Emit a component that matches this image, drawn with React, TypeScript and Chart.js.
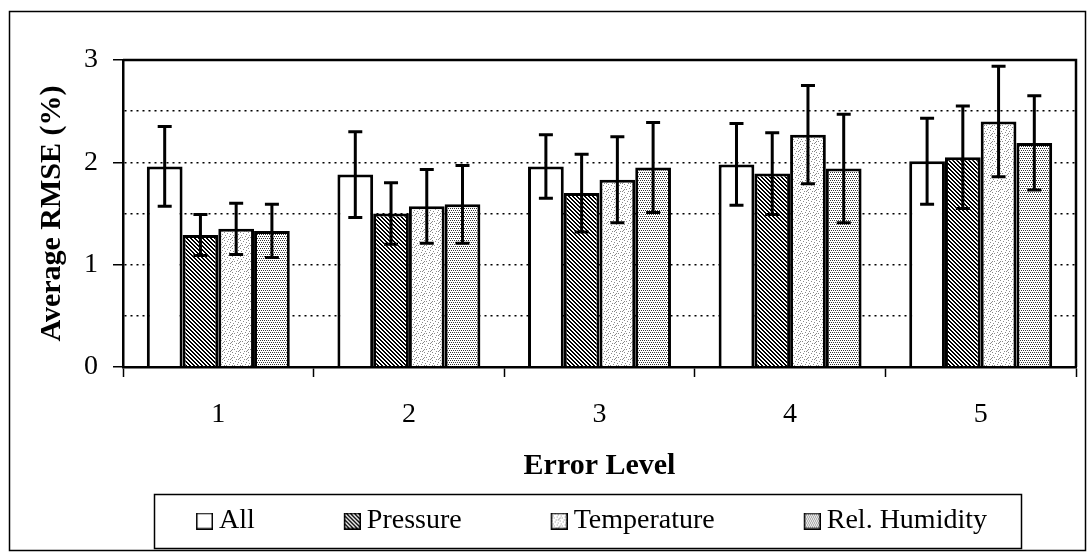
import React, { useEffect, useRef } from "react";
import { Chart, registerables } from "chart.js";

Chart.register(...registerables);

const categories = ["1", "2", "3", "4", "5"];
const seriesNames = ["All", "Pressure", "Temperature", "Rel. Humidity"];

const allValues = [1.96, 1.88, 1.96, 1.98, 2.01];
const allErrors = [0.39, 0.42, 0.31, 0.4, 0.42];
const pressureValues = [1.29, 1.5, 1.7, 1.89, 2.05];
const pressureErrors = [0.2, 0.3, 0.38, 0.4, 0.5];
const temperatureValues = [1.35, 1.57, 1.83, 2.27, 2.4];
const temperatureErrors = [0.25, 0.36, 0.42, 0.48, 0.54];
const humidityValues = [1.33, 1.59, 1.95, 1.94, 2.19];
const humidityErrors = [0.26, 0.38, 0.44, 0.53, 0.46];

const yMin = 0;
const yMax = 3;
const yStep = 0.5;

const FONT = "'Liberation Serif', 'Times New Roman', serif";

function makeTile(size: number, draw: (g: CanvasRenderingContext2D) => void) {
  const c = document.createElement("canvas");
  c.width = size;
  c.height = size;
  const g = c.getContext("2d") as CanvasRenderingContext2D;
  g.fillStyle = "#ffffff";
  g.fillRect(0, 0, size, size);
  draw(g);
  return c;
}

function buildTiles() {
  const white = makeTile(4, () => {});
  const hatch = makeTile(4, (g) => {
    g.fillStyle = "#000";
    for (let y = 0; y < 4; y++)
      for (let x = 0; x < 4; x++) if ((x - y + 8) % 4 < 2) g.fillRect(x, y, 1, 1);
  });
  const speckle = makeTile(8, (g) => {
    g.fillStyle = "#8a8a8a";
    const pts = [
      [0, 0], [3, 1], [6, 2], [1, 3], [5, 4], [2, 5], [7, 6], [4, 7], [0, 5], [6, 7],
    ];
    pts.forEach(([x, y]) => g.fillRect(x, y, 1, 1));
  });
  const dots = makeTile(4, (g) => {
    g.fillStyle = "#333";
    [[0, 0], [2, 0], [1, 2], [3, 2]].forEach(([x, y]) => g.fillRect(x, y, 1, 1));
  });
  return [white, hatch, speckle, dots];
}

const LEGEND_W = 88;

function legendImage(tile: HTMLCanvasElement) {
  const c = document.createElement("canvas");
  c.width = LEGEND_W + 16;
  c.height = 17;
  const g = c.getContext("2d") as CanvasRenderingContext2D;
  const pat = g.createPattern(tile, "repeat") as CanvasPattern;
  g.fillStyle = pat;
  g.fillRect(c.width - 17, 0, 17, 17);
  g.strokeStyle = "#000";
  g.lineWidth = 1.5;
  g.strokeRect(c.width - 16.25, 0.75, 15.5, 15.5);
  return c;
}

const errorBarPlugin = {
  id: "errorBars",
  afterDatasetsDraw(chart: any) {
    const ctx = chart.ctx;
    const y = chart.scales.y;
    ctx.save();
    ctx.strokeStyle = "#000";
    ctx.lineWidth = 3;
    chart.data.datasets.forEach((ds: any, di: number) => {
      const meta = chart.getDatasetMeta(di);
      meta.data.forEach((bar: any, i: number) => {
        const v = ds.data[i];
        const e = ds.errors[i];
        const yt = y.getPixelForValue(v + e);
        const yb = y.getPixelForValue(v - e);
        const x = bar.x;
        ctx.beginPath();
        ctx.moveTo(x, yt);
        ctx.lineTo(x, yb);
        ctx.moveTo(x - 7, yt);
        ctx.lineTo(x + 7, yt);
        ctx.moveTo(x - 7, yb);
        ctx.lineTo(x + 7, yb);
        ctx.stroke();
      });
    });
    ctx.restore();
  },
};

const framePlugin = {
  id: "frames",
  afterDraw(chart: any) {
    const { ctx, chartArea: a } = chart;
    ctx.save();
    ctx.strokeStyle = "#000";
    ctx.lineWidth = 2.5;
    ctx.beginPath();
    ctx.moveTo(a.left, a.top);
    ctx.lineTo(a.right, a.top);
    ctx.lineTo(a.right, a.bottom);
    ctx.stroke();
    ctx.lineWidth = 1.5;
    ctx.strokeRect(9.5, 11.5, 1076, 539);
    const hb = chart.legend.legendHitBoxes;
    if (hb && hb.length) {
      const left = hb[0].left + LEGEND_W - 9 - 42;
      const last = hb[hb.length - 1];
      const right = last.left + last.width + 34;
      const cy = hb[0].top + 14;
      ctx.lineWidth = 1.5;
      ctx.strokeRect(Math.round(left) + 0.5, Math.round(cy - 27) + 0.5, Math.round(right - left), 54);
    }
    ctx.restore();
  },
};

export default function App() {
  const ref = useRef<HTMLCanvasElement>(null);

  useEffect(() => {
    const tiles = buildTiles();
    const canvas = ref.current as HTMLCanvasElement;
    const g = canvas.getContext("2d") as CanvasRenderingContext2D;
    const pats = tiles.map((t) => g.createPattern(t, "repeat"));
    const images = tiles.map((t) => legendImage(t));
    const values = [allValues, pressureValues, temperatureValues, humidityValues];
    const errors = [allErrors, pressureErrors, temperatureErrors, humidityErrors];

    const chart = new Chart(canvas, {
      type: "bar",
      data: {
        labels: categories,
        datasets: seriesNames.map((name, i) => ({
          label: name,
          data: values[i],
          errors: errors[i],
          backgroundColor: pats[i],
          borderColor: "#000",
          borderWidth: 3,
          barPercentage: 1,
          categoryPercentage: 0.75,
        })) as any,
      },
      options: {
        responsive: false,
        animation: false,
        devicePixelRatio: 1,
        layout: { padding: { left: 28, top: 60, right: 13, bottom: 10 } },
        plugins: {
          tooltip: { enabled: false },
          legend: {
            position: "bottom",
            labels: {
              usePointStyle: true,
              pointStyleWidth: LEGEND_W,
              boxHeight: 17,
              padding: 10,
              color: "#000",
              font: { family: FONT, size: 28 },
              generateLabels: (ch: any) =>
                Chart.defaults.plugins.legend.labels
                  .generateLabels(ch)
                  .map((it: any, i: number) => ({ ...it, pointStyle: images[i] })),
            },
          },
        },
        scales: {
          x: {
            type: "category",
            offset: true,
            afterFit: (s: any) => {
              s.height = 130;
            },
            grid: {
              offset: true,
              drawOnChartArea: false,
              drawTicks: true,
              tickLength: 10,
              tickColor: "#000",
              tickWidth: 1.5,
              color: "#000",
            },
            border: { display: true, color: "#000", width: 2.5, z: 1 },
            ticks: {
              color: "#000",
              padding: 21,
              font: { family: FONT, size: 28 },
              maxRotation: 0,
            },
            title: {
              display: true,
              text: "Error Level",
              color: "#000",
              font: { family: FONT, size: 30, weight: "bold" },
              padding: { top: 0, bottom: 13 },
            },
          },
          y: {
            min: yMin,
            max: yMax,
            afterFit: (s: any) => {
              s.width = 95;
            },
            grid: {
              color: (c: any) =>
                c.tick && (c.tick.value === yMin || c.tick.value === yMax) ? "rgba(0,0,0,0)" : "#000",
              lineWidth: 1.5,
              drawTicks: true,
              tickLength: 10,
              tickWidth: 1.5,
              tickBorderDash: [],
              tickColor: (c: any) =>
                c.tick && Number.isInteger(c.tick.value) ? "#000" : "rgba(0,0,0,0)",
            },
            border: { display: true, color: "#000", width: 2.5, dash: [2, 4], z: 1 },
            ticks: {
              stepSize: yStep,
              color: "#000",
              padding: 15,
              font: { family: FONT, size: 28 },
              callback: (v: any) => (Number.isInteger(v) ? String(v) : ""),
            },
            title: {
              display: true,
              text: "Average RMSE (%)",
              color: "#000",
              font: { family: FONT, size: 30, weight: "bold" },
              padding: { top: 6, bottom: 0 },
            },
          },
        },
      } as any,
      plugins: [errorBarPlugin, framePlugin],
    });
    return () => chart.destroy();
  }, []);

  return (
    <div style={{ position: "absolute", left: 0, top: 0, width: 1089, height: 555, background: "#fff" }}>
      <canvas ref={ref} width={1089} height={555} />
    </div>
  );
}
